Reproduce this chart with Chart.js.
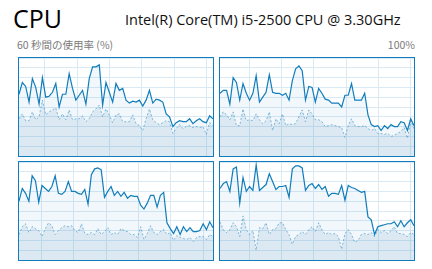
<!DOCTYPE html>
<html>
<head>
<meta charset="utf-8">
<script src="https://cdn.jsdelivr.net/npm/chart.js@4.4.1/dist/chart.umd.min.js"></script>
<style>
  html, body { margin: 0; padding: 0; background: #fff; }
  body { width: 432px; height: 269px; position: relative; overflow: hidden; font-family: "Open Sans", "Noto Sans", sans-serif; }
  .title { position: absolute; left: 13px; top: 1px; font-size: 25px; color: #000; }
  .model { position: absolute; left: 125px; top: 10px; font-size: 14.5px; color: #111; }
  .caption { position: absolute; top: 37px; font-size: 10.5px; color: #7a7a7a; font-family: "Noto Sans CJK JP", "Noto Sans", sans-serif; }
  .panel { position: absolute; border: 1px solid #117dbb; width: 194px; height: 98px; }
  .panel canvas { display: block; }
</style>
</head>
<body>
<div class="title">CPU</div>
<div class="model">Intel(R) Core(TM) i5-2500 CPU @ 3.30GHz</div>
<div class="caption" style="left:17px">60 秒間の使用率 (%)</div>
<div class="caption" style="right:17px">100%</div>

<div class="panel" style="left:18px; top:57px"><canvas id="c0" width="194" height="98"></canvas></div>
<div class="panel" style="left:219px; top:57px"><canvas id="c1" width="194" height="98"></canvas></div>
<div class="panel" style="left:18px; top:161px"><canvas id="c2" width="194" height="98"></canvas></div>
<div class="panel" style="left:219px; top:161px"><canvas id="c3" width="194" height="98"></canvas></div>

<script>
// 使用率（全体）とカーネル時間、コアごと
const core0Total = [63,75,71,55,79,70,53,80,60,61,65,74,50,63,63,84,69,57,62,67,53,79,91,91,93,52,75,65,55,74,67,69,57,54,56,55,57,51,57,67,54,58,57,55,43,40,30,34,36,35,35,38,33,36,38,35,34,41,38];
const core0Kernel = [38,43,36,36,45,37,40,57,42,45,47,49,37,43,37,47,37,38,38,41,35,38,45,48,52,40,48,42,34,42,43,35,35,35,42,33,31,26,38,48,37,34,32,34,36,35,23,28,32,28,30,31,29,30,29,30,22,34,31];
const core1Total = [64,67,67,53,80,75,57,74,64,57,64,82,55,60,65,83,65,64,64,62,64,57,77,89,92,87,57,71,70,55,69,64,58,57,54,54,54,50,62,62,74,57,57,57,64,42,32,30,31,26,31,28,32,30,30,35,34,26,38,31];
const core1Kernel = [40,45,42,37,45,31,31,48,36,37,36,43,37,33,36,45,26,38,33,43,31,33,32,33,40,47,35,47,43,37,37,35,30,31,32,31,30,29,19,31,38,31,30,30,31,28,26,28,23,23,22,23,20,21,23,25,29,18,36,28];
const core2Total = [60,73,68,60,86,81,59,76,73,70,75,86,68,67,70,80,70,70,68,67,72,57,87,93,94,92,64,70,75,66,70,65,69,63,66,65,65,56,52,58,66,66,54,66,69,38,32,27,34,26,34,29,33,29,29,30,37,31,39,33];
const core2Kernel = [26,34,37,28,34,32,30,24,32,38,35,26,30,33,35,34,35,30,28,37,27,26,28,26,32,26,29,33,26,28,26,32,30,29,26,26,23,34,21,27,35,28,26,29,31,26,28,20,25,23,22,21,23,19,23,24,24,21,26,24];
const core3Total = [73,78,80,70,93,95,58,84,70,75,71,97,71,74,77,88,80,72,75,75,76,64,93,96,96,94,71,76,78,73,77,72,75,65,68,68,67,76,61,76,74,73,71,69,70,44,41,26,34,35,36,37,37,39,34,40,34,38,41,35];
const core3Kernel = [39,31,28,31,38,34,24,45,31,26,30,10,33,32,38,26,31,32,38,38,31,26,16,24,26,29,26,31,34,29,38,31,26,28,26,27,24,11,27,31,26,18,20,26,27,26,28,24,31,28,30,27,30,34,27,27,26,24,28,26];

// 縦グリッドはスクロールするので、パネルごとにずれている（秒）
const gridShift = [8, 9, 7, 9];

const BLUE = 'rgb(17,125,187)';

function toPoints(vals) {
    const n = vals.length;
    return vals.map((v, i) => ({ x: i * 60 / (n - 1), y: v }));
}

function makeCore(id, total, kernel, shift) {
    new Chart(document.getElementById(id), {
        type: 'line',
        data: {
            datasets: [
                {
                    data: toPoints(total),
                    borderColor: BLUE,
                    borderWidth: 1.2,
                    backgroundColor: 'rgba(17,125,187,0.06)',
                    fill: 'origin',
                    pointRadius: 0,
                    tension: 0
                },
                {
                    data: toPoints(kernel),
                    borderColor: 'rgba(17,125,187,0.5)',
                    borderWidth: 1,
                    borderDash: [2, 2],
                    backgroundColor: 'rgba(40,110,160,0.10)',
                    fill: 'origin',
                    pointRadius: 0,
                    tension: 0
                }
            ]
        },
        options: {
            responsive: false,
            animation: false,
            layout: { padding: 0 },
            plugins: { legend: { display: false }, tooltip: { enabled: false } },
            scales: {
                x: {
                    type: 'linear', min: 0, max: 60,
                    ticks: { display: false },
                    border: { display: false },
                    grid: { color: '#d9eaf5', drawTicks: false },
                    afterBuildTicks: (ax) => {
                        const t = [];
                        for (let s = shift; s < 60; s += 10) t.push({ value: s });
                        ax.ticks = t;
                    }
                },
                y: {
                    min: 0, max: 100,
                    ticks: { display: false, stepSize: 10 },
                    border: { display: false },
                    grid: { color: '#d9eaf5', drawTicks: false }
                }
            }
        }
    });
}

makeCore('c0', core0Total, core0Kernel, gridShift[0]);
makeCore('c1', core1Total, core1Kernel, gridShift[1]);
makeCore('c2', core2Total, core2Kernel, gridShift[2]);
makeCore('c3', core3Total, core3Kernel, gridShift[3]);
</script>
</body>
</html>
